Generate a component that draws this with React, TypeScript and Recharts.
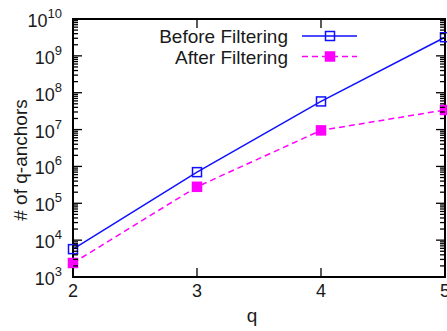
import React from 'react';
import { LineChart, Line, XAxis, YAxis, Legend, ReferenceArea } from 'recharts';

const qValues = [2, 3, 4, 5];
const beforeFiltering = [5700, 700000, 58000000, 3200000000];
const afterFiltering = [2400, 280000, 9500000, 34000000];

const decadeTicks = [1e3, 1e4, 1e5, 1e6, 1e7, 1e8, 1e9, 1e10];
const minorSteps = [2, 3, 4, 5, 6, 7, 8, 9];
const xTicks = [2, 3, 4, 5];
const seriesOrder = ['before', 'after'];

const yTicks = decadeTicks.flatMap((d, i) =>
  i < decadeTicks.length - 1 ? [d, ...minorSteps.map((m) => d * m)] : [d]
);

const data = qValues.map((q, i) => ({
  q,
  before: beforeFiltering[i],
  after: afterFiltering[i],
}));

const FONT = '"Liberation Sans", Arial, Helvetica, sans-serif';
const BLUE = '#1010ff';
const MAGENTA = '#ff00ff';
const TEXT = '#1a1a1a';

const PLOT_LEFT = 73;
const PLOT_RIGHT = 445;
const PLOT_TOP = 19;
const PLOT_BOTTOM = 277;

const YTick = (props: any) => {
  const { y, payload } = props;
  const v = payload.value;
  const exp = Math.round(Math.log10(v));
  const major = Math.abs(Math.pow(10, exp) - v) < 1e-6 * v;
  const len = major ? 9 : 5;
  return (
    <g>
      <line x1={PLOT_LEFT} x2={PLOT_LEFT + len} y1={y} y2={y} stroke="#000" strokeWidth={1.3} />
      <line x1={PLOT_RIGHT - len} x2={PLOT_RIGHT} y1={y} y2={y} stroke="#000" strokeWidth={1.3} />
      {major && (
        <text x={62} y={y + 8} textAnchor="end" fontFamily={FONT} fontSize={18} fill={TEXT}>
          10
          <tspan dy={-9} fontSize={13}>{exp}</tspan>
        </text>
      )}
    </g>
  );
};

const XTick = (props: any) => {
  const { x, payload } = props;
  return (
    <g>
      <line x1={x} x2={x} y1={PLOT_BOTTOM} y2={PLOT_BOTTOM - 9} stroke="#000" strokeWidth={1.3} />
      <line x1={x} x2={x} y1={PLOT_TOP} y2={PLOT_TOP + 9} stroke="#000" strokeWidth={1.3} />
      <text x={x} y={297} textAnchor="middle" fontFamily={FONT} fontSize={18} fill={TEXT}>
        {payload.value}
      </text>
    </g>
  );
};

const squareDot = (filled: boolean, color: string) => (p: any) => {
  const { cx, cy, index } = p;
  if (cx == null || cy == null) return <g key={`d-${index}`} />;
  return (
    <rect
      key={`d-${index}`}
      x={cx - 4.5}
      y={cy - 4.5}
      width={9}
      height={9}
      fill={filled ? color : 'none'}
      stroke={color}
      strokeWidth={1.5}
    />
  );
};

const LegendContent = (props: any) => {
  const items = [...(props.payload || [])].sort(
    (a: any, b: any) => seriesOrder.indexOf(a.dataKey) - seriesOrder.indexOf(b.dataKey)
  );
  return (
    <svg
      width={447}
      height={80}
      style={{ position: 'absolute', left: 0, top: 0, overflow: 'visible' }}
    >
      {items.map((item: any, i: number) => {
        const cy = 36 + i * 20.5;
        const filled = item.dataKey === 'after';
        return (
          <g key={item.value}>
            <text x={288} y={cy + 7} textAnchor="end" fontFamily={FONT} fontSize={19} fill={TEXT}>
              {item.value}
            </text>
            <line
              x1={302}
              x2={357}
              y1={cy}
              y2={cy}
              stroke={item.color}
              strokeWidth={1.5}
              strokeDasharray={filled ? '6 4' : undefined}
            />
            <rect
              x={325.5}
              y={cy - 4.5}
              width={9}
              height={9}
              fill={filled ? item.color : 'none'}
              stroke={item.color}
              strokeWidth={1.5}
            />
          </g>
        );
      })}
    </svg>
  );
};

export default function App() {
  return (
    <div style={{ position: 'absolute', left: 0, top: 0, width: 447, height: 331, background: '#fff', fontFamily: FONT }}>
      <LineChart width={447} height={331} data={data} margin={{ top: PLOT_TOP, right: 2, bottom: 0, left: 0 }}>
        <XAxis
          dataKey="q"
          type="number"
          domain={[2, 5]}
          ticks={xTicks}
          interval={0}
          height={54}
          axisLine={false}
          tickLine={false}
          tick={<XTick />}
          label={{
            content: () => (
              <text x={252} y={322} textAnchor="middle" fontFamily={FONT} fontSize={19} fill={TEXT}>
                q
              </text>
            ),
          }}
        />
        <YAxis
          type="number"
          scale="log"
          domain={[1e3, 1e10]}
          allowDataOverflow
          ticks={yTicks}
          interval={0}
          width={73}
          axisLine={false}
          tickLine={false}
          tick={<YTick />}
          label={{
            content: () => (
              <text
                x={27}
                y={160}
                transform="rotate(-90 27 160)"
                textAnchor="middle"
                fontFamily={FONT}
                fontSize={19}
                fill={TEXT}
              >
                # of q-anchors
              </text>
            ),
          }}
        />
        <ReferenceArea x1={2} x2={5} y1={1e3} y2={1e10} fill="none" stroke="#000" strokeWidth={2} ifOverflow="visible" />
        <Legend
          layout="vertical"
          verticalAlign="middle"
          align="center"
          wrapperStyle={{ left: 0, top: 0, width: 0, height: 0 }}
          content={<LegendContent />}
        />
        <Line
          dataKey="before"
          name="Before Filtering"
          stroke={BLUE}
          strokeWidth={1.5}
          dot={squareDot(false, BLUE)}
          isAnimationActive={false}
        />
        <Line
          dataKey="after"
          name="After Filtering"
          stroke={MAGENTA}
          strokeWidth={1.5}
          strokeDasharray="6 4"
          dot={squareDot(true, MAGENTA)}
          isAnimationActive={false}
        />
      </LineChart>
    </div>
  );
}
